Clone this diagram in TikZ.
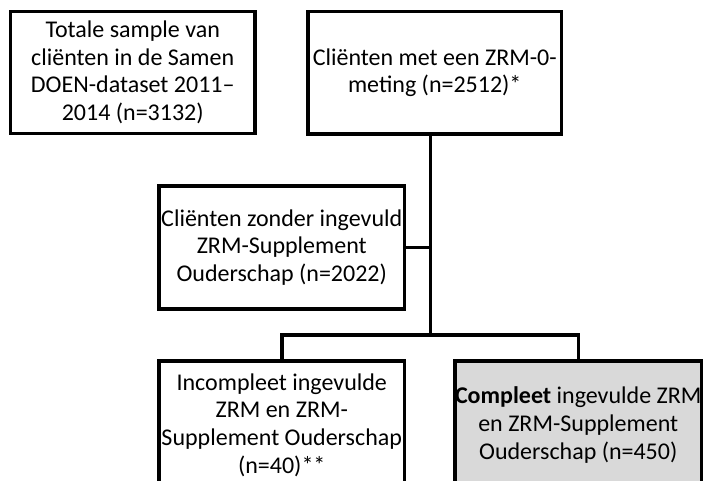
\documentclass[tikz,border=0pt]{standalone}
\usepackage{fontspec}
\setmainfont{Carlito}
\definecolor{boxgray}{HTML}{D9D9D9}
\tikzset{
  box/.style={draw=black, line width=3.5pt, rectangle, inner sep=0pt, align=center,
    font=\fontsize{24}{27.6}\selectfont},
  conn/.style={draw=black, line width=3.5pt}
}
\begin{document}
\begin{tikzpicture}[x=1pt,y=-1pt]
\useasboundingbox (0,0) rectangle (703,480);
\clip (0,0) rectangle (703,480);
\node[box, minimum width=244.5pt, minimum height=122pt] (b1) at (132.75,72.5)
  {Totale sample van\\cliënten in de Samen\\DOEN-dataset 2011–\\2014 (n=3132)};
\node[box, minimum width=253.5pt, minimum height=122.5pt] (b2) at (434.75,72.75)
  {Cliënten met een ZRM-0-\\meting (n=2512)*};
\node[box, minimum width=245.5pt, minimum height=123pt] (b3) at (281.75,247.5)
  {Cliënten zonder ingevuld\\ZRM-Supplement\\Ouderschap (n=2022)};
\node[box, minimum width=245.5pt, minimum height=128pt] (b4) at (281.75,425)
  {Incompleet ingevulde\\ZRM en ZRM-\\Supplement Ouderschap\\(n=40)**};
\node[box, fill=boxgray, minimum width=245.5pt, minimum height=128pt] (b5) at (578.25,425)
  {\textbf{Compleet} ingevulde ZRM\\en ZRM-Supplement\\Ouderschap (n=450)};
\coordinate (split) at (430.5,335);
\draw[conn] (b2.south -| split) -- (split);
\draw[conn] (b3.east) -- (b3.east -| split);
\draw[conn] (b4.north) |- (split) -| (b5.north);
\end{tikzpicture}
\end{document}
